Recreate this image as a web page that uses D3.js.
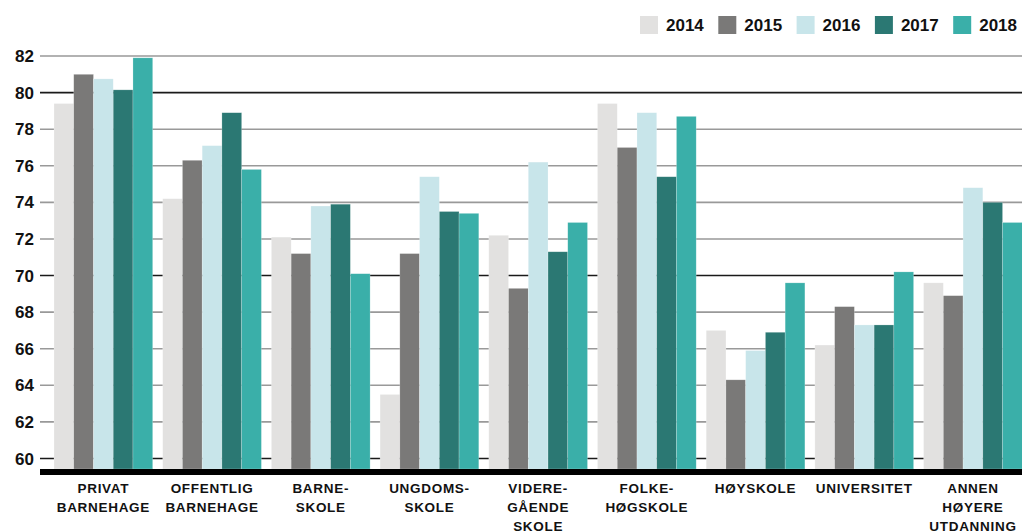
<!DOCTYPE html>
<html>
<head>
<meta charset="utf-8">
<script src="https://cdn.jsdelivr.net/npm/d3@7"></script>
<style>
  body { margin: 0; background: #fff; }
  text { font-family: "Liberation Sans", Arial, sans-serif; font-weight: bold; fill: #111; }
</style>
</head>
<body>
<div id="chart"></div>
<script>
var width = 1022,
    height = 532,
    plotLeft = 54,
    plotRight = 1022,
    gridLeft = 40,
    yTop = 56,
    yBottom = 469;

var years = ["2014", "2015", "2016", "2017", "2018"];
var colors = ["#e2e1e0", "#7a7978", "#c8e5ea", "#2b7873", "#3aafa9"];
var categories = [
  ["PRIVAT", "BARNEHAGE"],
  ["OFFENTLIG", "BARNEHAGE"],
  ["BARNE-", "SKOLE"],
  ["UNGDOMS-", "SKOLE"],
  ["VIDERE-", "GÅENDE", "SKOLE"],
  ["FOLKE-", "HØGSKOLE"],
  ["HØYSKOLE"],
  ["UNIVERSITET"],
  ["ANNEN", "HØYERE", "UTDANNING"]
];
// one array per year, in category order
var v2014 = [79.4, 74.2, 72.1, 63.5, 72.2, 79.4, 67.0, 66.2, 69.6];
var v2015 = [81.0, 76.3, 71.2, 71.2, 69.3, 77.0, 64.3, 68.3, 68.9];
var v2016 = [80.75, 77.1, 73.8, 75.4, 76.2, 78.9, 65.9, 67.3, 74.8];
var v2017 = [80.15, 78.9, 73.9, 73.5, 71.3, 75.4, 66.9, 67.3, 74.0];
var v2018 = [81.9, 75.8, 70.1, 73.4, 72.9, 78.7, 69.6, 70.2, 72.9];
var yTicks = [60, 62, 64, 66, 68, 70, 72, 74, 76, 78, 80, 82];

var series = [v2014, v2015, v2016, v2017, v2018];

var svg = d3.select("#chart").append("svg")
    .attr("width", width)
    .attr("height", height);

var x0 = d3.scaleBand()
    .domain(d3.range(categories.length))
    .range([plotLeft, plotRight + 0.3])
    .paddingInner(0.092)
    .paddingOuter(0);

var x1 = d3.scaleBand()
    .domain(years)
    .range([0, x0.bandwidth()]);

var y = d3.scaleLinear()
    .domain([82, 60])
    .range([yTop, 458.5]);

// gridlines
svg.append("g").selectAll("line")
    .data(yTicks)
    .enter().append("line")
    .attr("x1", gridLeft)
    .attr("x2", width)
    .attr("y1", d => y(d))
    .attr("y2", d => y(d))
    .attr("stroke", d => d % 10 == 0 ? "#1a1a1a" : "#999")
    .attr("stroke-width", 1.6);

// y labels
svg.append("g").selectAll("text")
    .data(yTicks)
    .enter().append("text")
    .attr("x", 34)
    .attr("y", d => y(d))
    .attr("dy", "0.36em")
    .attr("text-anchor", "end")
    .style("font-size", "17px")
    .text(d => d);

// bars
var groups = svg.append("g").selectAll("g")
    .data(categories)
    .enter().append("g")
    .attr("transform", (d, i) => `translate(${x0(i)},0)`);

groups.selectAll("rect")
    .data((d, i) => years.map((yr, j) => ({ year: yr, value: series[j][i], color: colors[j] })))
    .enter().append("rect")
    .attr("x", d => x1(d.year))
    .attr("width", x1.bandwidth())
    .attr("y", d => y(d.value))
    .attr("height", d => yBottom - y(d.value))
    .attr("fill", d => d.color)
    .attr("stroke", "rgba(255,255,255,0.35)")
    .attr("stroke-width", 0.6);

// baseline
svg.append("rect")
    .attr("x", gridLeft)
    .attr("y", yBottom)
    .attr("width", width - gridLeft)
    .attr("height", 6)
    .attr("fill", "#000");

// category labels
var labels = svg.append("g").selectAll("text")
    .data(categories)
    .enter().append("text")
    .attr("x", (d, i) => x0(i) + x0.bandwidth() / 2)
    .attr("y", 493)
    .attr("text-anchor", "middle")
    .style("font-size", "13.5px")
    .style("letter-spacing", "0.7px");

labels.selectAll("tspan")
    .data(d => d)
    .enter().append("tspan")
    .attr("x", function () { return d3.select(this.parentNode).attr("x"); })
    .attr("dy", (d, i) => i == 0 ? 0 : 19)
    .text(d => d);

// legend
var legend = svg.append("g").selectAll("g")
    .data(years)
    .enter().append("g")
    .attr("transform", (d, i) => `translate(${640 + i * 78.3},16)`);

legend.append("rect")
    .attr("width", 18)
    .attr("height", 18)
    .attr("fill", (d, i) => colors[i]);

legend.append("text")
    .attr("x", 26)
    .attr("y", 9)
    .attr("dy", "0.36em")
    .style("font-size", "17px")
    .text(d => d);
</script>
</body>
</html>
